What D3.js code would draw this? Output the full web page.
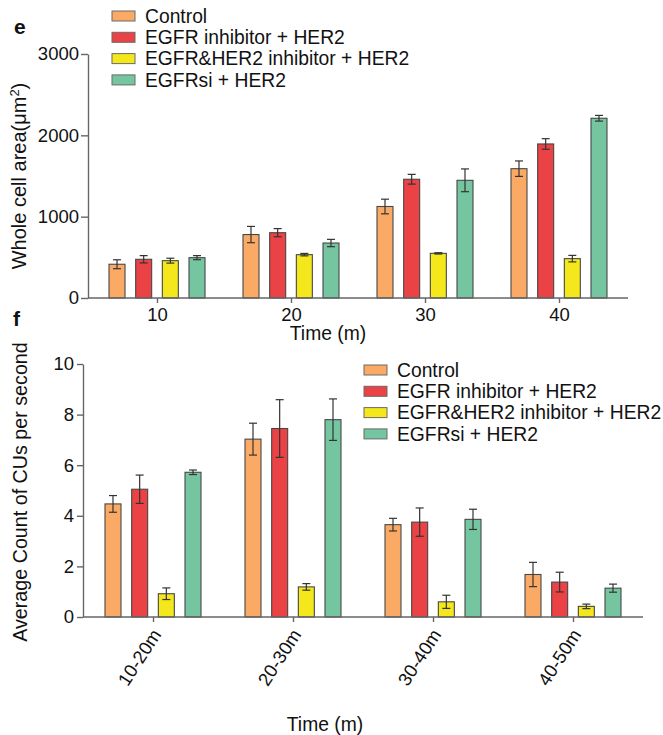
<!DOCTYPE html>
<html>
<head>
<meta charset="utf-8">
<script src="https://cdn.jsdelivr.net/npm/d3@7"></script>
<style>
  body { margin: 0; background: #fff; }
  svg { display: block; }
  text { font-family: "Liberation Sans", Arial, sans-serif; fill: #111; }
</style>
</head>
<body>
<svg id="chart" width="663" height="735"></svg>
<script>
// series names and colours
var groups = ["Control", "EGFR inhibitor + HER2", "EGFR&HER2 inhibitor + HER2", "EGFRsi + HER2"];
var colors = ["#FBAA66", "#EA4245", "#F4E71C", "#74C5A0"];

// panel e : whole cell area
var timesE = ["10", "20", "30", "40"];
var areaControl = [415, 780, 1125, 1590];
var areaEgfrInh = [476, 803, 1460, 1894];
var areaDual = [459, 533, 549, 484];
var areaSi = [496, 676, 1447, 2210];
var areaControlErr = [55, 100, 90, 95];
var areaEgfrInhErr = [45, 50, 60, 65];
var areaDualErr = [30, 15, 8, 40];
var areaSiErr = [25, 45, 140, 35];
var ticksE = [0, 1000, 2000, 3000];

// panel f : CUs per second
var timesF = ["10-20m", "20-30m", "30-40m", "40-50m"];
var cuControl = [4.47, 7.03, 3.65, 1.68];
var cuEgfrInh = [5.05, 7.45, 3.75, 1.38];
var cuDual = [0.92, 1.19, 0.60, 0.42];
var cuSi = [5.72, 7.80, 3.86, 1.14];
var cuControlErr = [0.33, 0.63, 0.25, 0.48];
var cuEgfrInhErr = [0.56, 1.14, 0.56, 0.39];
var cuDualErr = [0.23, 0.13, 0.26, 0.09];
var cuSiErr = [0.09, 0.82, 0.40, 0.16];
var ticksF = [0, 2, 4, 6, 8, 10];

var svg = d3.select("#chart");

function drawPanel(opt) {
  var g = svg.append("g");
  var y = d3.scaleLinear().domain([0, opt.ymax]).range([opt.bottom, opt.top]);
  var x = d3.scalePoint().domain(opt.cats).range([opt.left, opt.right]).padding(opt.pad);
  var inner = d3.scaleBand().domain(d3.range(4)).range([-48, 48]).paddingInner(0.4);

  // rows: one per category, four bars each
  var rows = [];
  opt.cats.forEach(function(c, i) {
    for (var s = 0; s < 4; s++) {
      rows.push({cat: c, s: s, v: opt.values[s][i], e: opt.errs[s][i]});
    }
  });

  g.selectAll("rect.bar").data(rows).enter().append("rect")
    .attr("class", "bar")
    .attr("x", function(d) { return x(d.cat) + inner(d.s); })
    .attr("width", inner.bandwidth())
    .attr("y", function(d) { return y(d.v); })
    .attr("height", function(d) { return y(0) - y(d.v); })
    .attr("fill", function(d) { return colors[d.s]; })
    .attr("stroke", "#474747")
    .attr("stroke-width", 1.1);

  // error bars
  var eb = g.selectAll("g.err").data(rows).enter().append("g")
    .attr("class", "err")
    .attr("stroke", "#333")
    .attr("stroke-width", 1.2);
  function cx(d) { return x(d.cat) + inner(d.s) + inner.bandwidth() / 2; }
  eb.append("line")
    .attr("x1", cx).attr("x2", cx)
    .attr("y1", function(d) { return y(d.v + d.e); })
    .attr("y2", function(d) { return y(d.v - d.e); });
  [1, -1].forEach(function(sign) {
    eb.append("line")
      .attr("x1", function(d) { return cx(d) - 4; })
      .attr("x2", function(d) { return cx(d) + 4; })
      .attr("y1", function(d) { return y(d.v + sign * d.e); })
      .attr("y2", function(d) { return y(d.v + sign * d.e); });
  });

  // axes
  var yAxis = g.append("g")
    .attr("transform", "translate(" + opt.left + ",0)")
    .call(d3.axisLeft(y).tickValues(opt.ticks).tickFormat(d3.format("d"))
      .tickSize(opt.ytick).tickPadding(opt.ypad).tickSizeOuter(0));
  var xAxis = g.append("g")
    .attr("transform", "translate(0," + opt.bottom + ")")
    .call(d3.axisBottom(x).tickSize(5).tickPadding(5).tickSizeOuter(0));
  xAxis.select(".domain").remove();
  xAxis.append("line")
    .attr("x1", opt.left).attr("x2", opt.right)
    .attr("stroke", "#666").attr("stroke-width", 1.4);
  [yAxis, xAxis].forEach(function(a) {
    a.selectAll(".domain, .tick line").attr("stroke", "#666").attr("stroke-width", 1.4);
    a.selectAll("text").style("font-size", "18.5px").attr("fill", "#111");
  });
  if (opt.rotate) {
    xAxis.selectAll(".tick text")
      .attr("text-anchor", "end")
      .attr("dy", "0.35em")
      .attr("transform", "translate(3,14) rotate(-57)")
      .attr("y", 0).attr("x", 0);
  }

  // titles
  g.append("text")
    .attr("transform", "translate(" + opt.ytx + "," + opt.yty + ") rotate(-90)")
    .attr("text-anchor", "middle").attr("dy", "0.35em")
    .style("font-size", opt.ysize)
    .html(opt.ytitle);
  g.append("text")
    .attr("x", opt.xtx).attr("y", opt.xty)
    .attr("text-anchor", "middle").attr("dy", "0.35em")
    .style("font-size", "19.3px")
    .text("Time (m)");
  g.append("text")
    .attr("x", opt.lx).attr("y", opt.ly)
    .style("font-size", "21px").style("font-weight", "bold")
    .text(opt.label);

  // legend
  var lg = g.selectAll("g.leg").data(groups).enter().append("g")
    .attr("class", "leg")
    .attr("transform", function(d, i) { return "translate(" + opt.legX + "," + (opt.legY + i * 21.3) + ")"; });
  lg.append("rect")
    .attr("x", 0).attr("y", -5).attr("width", 23).attr("height", 10)
    .attr("fill", function(d, i) { return colors[i]; })
    .attr("stroke", "#6a6a6a").attr("stroke-width", 1);
  lg.append("text")
    .attr("x", 33).attr("dy", "0.35em")
    .style("font-size", "19.3px")
    .text(function(d) { return d; });
}

drawPanel({
  cats: timesE, values: [areaControl, areaEgfrInh, areaDual, areaSi],
  errs: [areaControlErr, areaEgfrInhErr, areaDualErr, areaSiErr],
  ymax: 3000, ticks: ticksE, top: 54, bottom: 298, left: 88, right: 628, pad: 0.515,
  ytick: 7, ypad: 2, rotate: false, ysize: "20px",
  ytitle: "Whole cell area(μm<tspan dy='-7' font-size='13'>2</tspan><tspan dy='7'>)</tspan>",
  ytx: 19, yty: 176, xtx: 328, xty: 333, lx: 14, ly: 34, label: "e",
  legX: 112, legY: 16
});

drawPanel({
  cats: timesF, values: [cuControl, cuEgfrInh, cuDual, cuSi],
  errs: [cuControlErr, cuEgfrInhErr, cuDualErr, cuSiErr],
  ymax: 10, ticks: ticksF, top: 364, bottom: 617, left: 83, right: 643, pad: 0.5,
  ytick: 6, ypad: 3, rotate: true, ysize: "19.7px",
  ytitle: "Average Count of CUs per second",
  ytx: 20, yty: 492, xtx: 325, xty: 724, lx: 13, ly: 326, label: "f",
  legX: 364, legY: 370
});
</script>
</body>
</html>
